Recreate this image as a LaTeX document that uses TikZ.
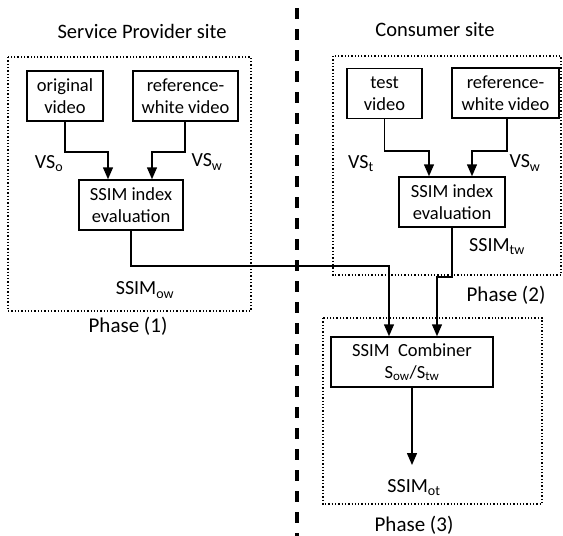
\documentclass[tikz,border=0pt]{standalone}
\usepackage{fontspec}
\setmainfont{Carlito}
\usetikzlibrary{arrows.meta}
\tikzset{
  box/.style={draw, line width=1.5pt, align=center, inner sep=0pt, minimum height=50pt, font=\fontsize{18.5}{22}\selectfont},
  area/.style={draw, line width=1.3pt, dotted},
  arr/.style={line width=1.5pt, -{Triangle[length=12pt,width=10pt]}},
  lbl/.style={font=\fontsize{20}{24}\selectfont, inner sep=0pt},
  phs/.style={font=\fontsize{21}{25}\selectfont, inner sep=0pt},
  ttl/.style={font=\fontsize{20.5}{24}\selectfont, inner sep=0pt},
}
\begin{document}
\begin{tikzpicture}[x=1pt,y=-1pt]
\useasboundingbox (0,0) rectangle (563,536);
\fill[white] (0,0) rectangle (563,536);

% site divider
\draw[line width=4pt, dash pattern=on 11pt off 10pt] (297,8) -- (297,536);

% phase areas
\draw[area] (8,57) rectangle (251,311);
\draw[area] (333,56) rectangle (561,275);
\draw[area] (323,318) rectangle (542,504);

% titles
\node[ttl] (tl) at (142,31) {Service Provider site};
\node[ttl] (tr) at (435,30) {Consumer site};

% service provider side
\node[box, minimum width=76pt] (orig) at (65,96) {original\\video};
\node[box, minimum width=105pt] (refl) at (185.5,96) {reference-\\white video};
\node[box, minimum width=104pt] (evall) at (131,205) {SSIM index\\evaluation};

% consumer side
\node[box, minimum width=75pt] (test) at (384.5,93.5) {test\\video};
\node[box, minimum width=107pt] (refr) at (505.5,93) {reference-\\white video};
\node[box, minimum width=106pt] (evalr) at (452,202) {SSIM index\\evaluation};

% combiner
\node[box, minimum width=162pt] (comb) at (412,362) {SSIM\ \ Combiner\\S\textsubscript{ow}/S\textsubscript{tw}};
\coordinate (out) at (412,465);

% inputs of the evaluations
\draw[arr] (orig.south) -- (65,152) -| ([xshift=-23pt]evall.north);
\draw[arr] ([xshift=-0.5pt]refl.south) -- (185,152) -| ([xshift=21pt]evall.north);
\draw[arr] (test.south) -- (384.5,151) -| ([xshift=-23pt]evalr.north);
\draw[arr] ([xshift=1.5pt]refr.south) -- (507,151) -| ([xshift=20pt]evalr.north);

% evaluations into the combiner
\draw[arr] (evall.south) -- (131,266) -| ([xshift=-23pt]comb.north);
\draw[arr] (evalr.south) -- (452,277) -| ([xshift=25pt]comb.north);
\draw[arr] (comb.south) -- (out);

% signal labels
\node[lbl] (vso) at (49,164) {VS\textsubscript{o}};
\node[lbl] (vswl) at (207,162) {VS\textsubscript{w}};
\node[lbl] (vst) at (361,164) {VS\textsubscript{t}};
\node[lbl] (vswr) at (525,163) {VS\textsubscript{w}};
\node[lbl] (sow) at (145,290) {SSIM\textsubscript{ow}};
\node[lbl] (stw) at (497,247) {SSIM\textsubscript{tw}};
\node[lbl] (sot) at (414,488) {SSIM\textsubscript{ot}};

% phase labels
\node[phs] (p1) at (128,326) {Phase (1)};
\node[phs] (p2) at (506,295) {Phase (2)};
\node[phs] (p3) at (414,525) {Phase (3)};
\end{tikzpicture}
\end{document}
